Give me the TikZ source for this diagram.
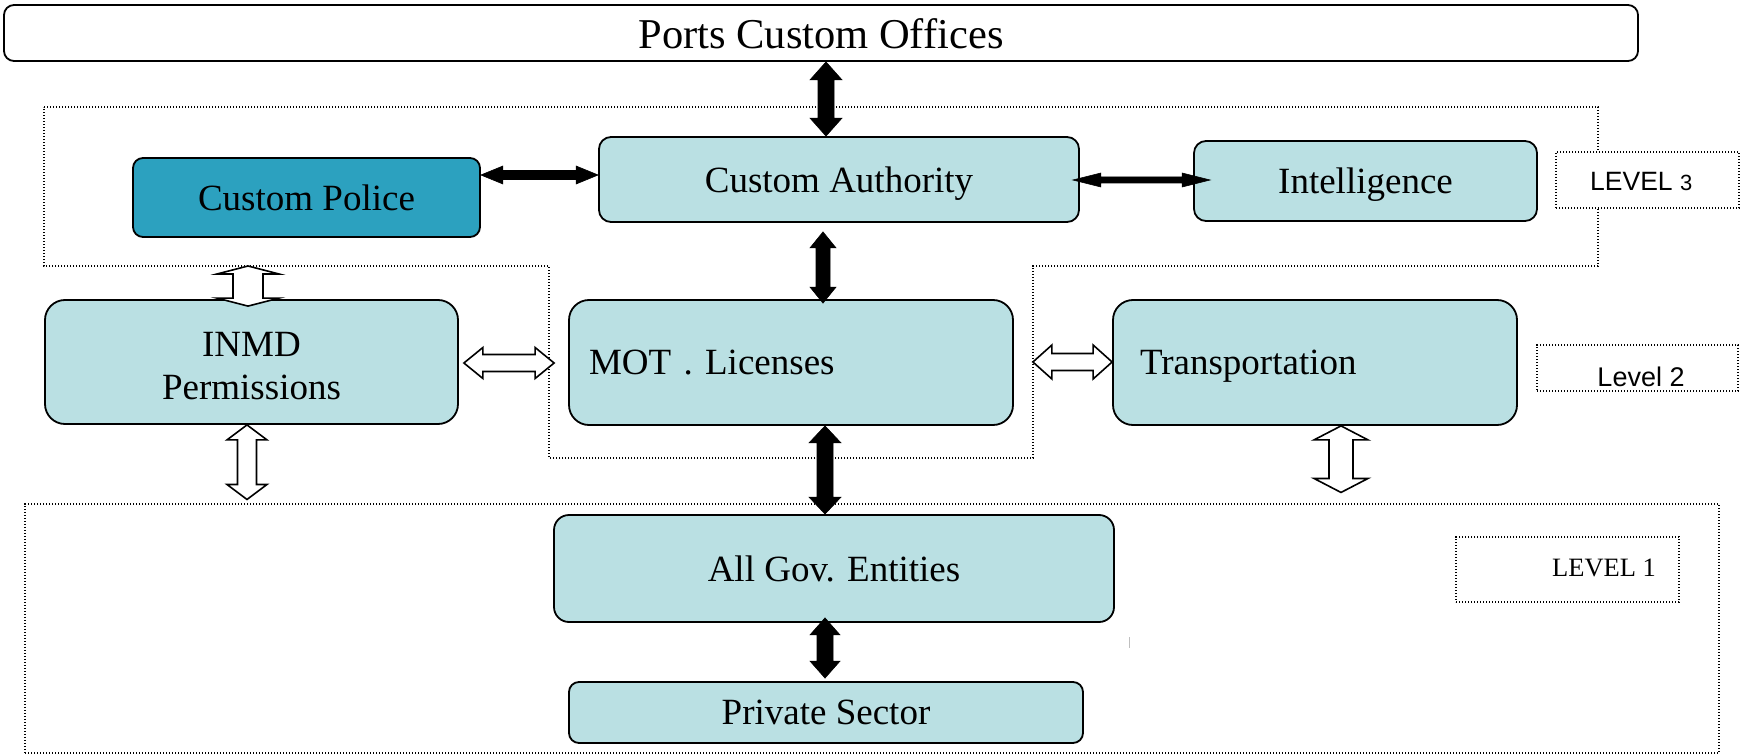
\documentclass[tikz,border=0pt]{standalone}
\usepackage{fontspec}
\setmainfont{Liberation Serif}
\newfontfamily\lsans{Liberation Sans}
\usetikzlibrary{calc}
\definecolor{boxfill}{RGB}{186,224,227}
\definecolor{cpfill}{RGB}{44,161,191}
\newcommand\mybody{\fontsize{37}{43.5}\selectfont}
% #1 style, #2 start tip, #3 end tip, #4 half head width, #5 half shaft width, #6 head length
\newcommand\blockarrow[6][hollowarr]{%
  \path[#1] (#2) -- ($(#2)!#6!(#3)!#4!90:(#3)$) -- ($(#2)!#6!(#3)!#5!90:(#3)$)
    -- ($(#3)!#6!(#2)!#5!-90:(#2)$) -- ($(#3)!#6!(#2)!#4!-90:(#2)$) -- (#3)
    -- ($(#3)!#6!(#2)!#4!90:(#2)$) -- ($(#3)!#6!(#2)!#5!90:(#2)$)
    -- ($(#2)!#6!(#3)!#5!-90:(#3)$) -- ($(#2)!#6!(#3)!#4!-90:(#3)$) -- cycle;}
\begin{document}
\begin{tikzpicture}[x=1pt,y=-1pt,
  box/.style={draw=black, line width=1.8pt, fill=boxfill, inner sep=0pt, align=center, font=\mybody, text depth=0pt},
  region/.style={draw=black, line width=1.1pt, dash pattern=on 1.4pt off 1.6pt},
  lvlbox/.style={region, line width=1.5pt, fill=white, inner sep=0pt},
  lvltext/.style={font=\lsans\fontsize{26.5}{30}\selectfont, inner sep=0pt},
  hollowarr/.style={draw=black, line width=1.6pt, fill=white, line join=miter},
  solidarr/.style={draw=black, line width=0.6pt, fill=black, line join=miter}]
\useasboundingbox (0,0) rectangle (1747,754);

% dotted regions
\draw[region] (44,107) -- (1598,107) -- (1598,266) -- (1033,266) -- (1033,458)
  -- (549,458) -- (549,266) -- (44,266) -- cycle;
\node[region, minimum width=1694pt, minimum height=249pt, inner sep=0pt] (l1) at (872,628.5) {};

% boxes
\node[box, fill=white, rounded corners=10pt, minimum width=1634pt, minimum height=56pt,
  font=\fontsize{42.5}{48}\selectfont] (ports) at (821,33) {\raisebox{-2pt}{Ports Custom Offices}};
\node[box, fill=cpfill, rounded corners=10pt, minimum width=347pt, minimum height=79pt] (cp) at (306.5,197.5) {Custom Police};
\node[box, rounded corners=12pt, minimum width=480pt, minimum height=85pt] (ca) at (839,179.5) {Custom Authority};
\node[box, rounded corners=12pt, minimum width=343pt, minimum height=80pt] (intel) at (1365.5,181) {Intelligence};
\node[box, rounded corners=20pt, minimum width=413pt, minimum height=124pt, align=none]
  (inmd) at (251.5,362) {\raisebox{22.5pt}{\begin{tabular}{@{}c@{}}INMD\\Permissions\end{tabular}}};
\node[box, rounded corners=20pt, minimum width=444pt, minimum height=125pt, text width=404pt,
  align=left, inner xsep=20pt] (mot) at (791,362.5) {MOT . Licenses};
\node[box, rounded corners=20pt, minimum width=404pt, minimum height=125pt, text width=350pt,
  align=left, inner xsep=27pt] (trans) at (1315,362.5) {Transportation};
\node[box, rounded corners=15pt, minimum width=560pt, minimum height=107pt] (allgov) at (834,568.5) {All Gov. Entities};
\node[box, rounded corners=10pt, minimum width=514pt, minimum height=61pt] (priv) at (826,712.5) {Private Sector};

% level labels
\node[lvlbox, minimum width=183pt, minimum height=56pt] (lvl3) at (1647.5,180) {};
\node[lvltext, anchor=west] (lvl3t) at (1590,181) {LEVEL {\fontsize{22}{26}\selectfont 3}};
\node[lvlbox, minimum width=201pt, minimum height=46pt] (lvl2) at (1637.5,368) {};
\node[lvltext, font=\lsans\fontsize{27}{30}\selectfont] (lvl2t) at (1641,377) {Level 2};
\node[lvlbox, minimum width=223pt, minimum height=65pt] (lvl1) at (1567.5,569.5) {};
\node[lvltext, font=\fontsize{26.5}{30}\selectfont, anchor=west] (lvl1t) at (1552,568) {LEVEL 1};

% connector end points
\coordinate (v1) at (826,0);
\coordinate (a1s) at (ports.south -| v1);
\coordinate (a1e) at (ca.north -| v1);
\coordinate (h2) at (0,175);
\coordinate (a2s) at (cp.east |- h2);
\coordinate (a2e) at (ca.west |- h2);
\coordinate (h3) at (0,180);
\coordinate (a3s) at ($(ca.east |- h3)+(-7,0)$);
\coordinate (a3e) at ($(intel.west |- h3)+(17,0)$);
\coordinate (v4) at (823,0);
\coordinate (a4s) at ($(ca.south -| v4)+(0,9)$);
\coordinate (a4e) at ($(mot.north -| v4)+(0,4)$);
\coordinate (v5) at (825,0);
\coordinate (a5s) at (mot.south -| v5);
\coordinate (a5e) at (allgov.north -| v5);
\coordinate (a6s) at ($(allgov.south -| v5)+(0,-5)$);
\coordinate (a6e) at ($(priv.north -| v5)+(0,-3)$);

\coordinate (b1s) at (248,266);
\coordinate (b1e) at ($(inmd.north -| b1s)+(0,7)$);
\coordinate (h8) at (0,363);
\coordinate (b2s) at ($(inmd.east |- h8)+(5,0)$);
\coordinate (b2e) at ($(mot.west |- h8)+(-14,0)$);
\coordinate (v9) at (247,0);
\coordinate (b3s) at (inmd.south -| v9);
\coordinate (b3e) at ($(l1.north -| v9)+(0,-4)$);
\coordinate (h10) at (0,362);
\coordinate (b4s) at ($(mot.east |- h10)+(19,0)$);
\coordinate (b4e) at (trans.west |- h10);
\coordinate (v11) at (1341,0);
\coordinate (b5s) at (trans.south -| v11);
\coordinate (b5e) at ($(l1.north -| v11)+(0,-11)$);

% solid double arrows
\blockarrow[solidarr]{a1s}{a1e}{16pt}{8pt}{18pt}
\blockarrow[solidarr]{a2s}{a2e}{9pt}{4.5pt}{22pt}
\blockarrow[solidarr]{a3s}{a3e}{7pt}{3pt}{28pt}
\blockarrow[solidarr]{a4s}{a4e}{13pt}{7pt}{16pt}
\blockarrow[solidarr]{a5s}{a5e}{16pt}{8pt}{17pt}
\blockarrow[solidarr]{a6s}{a6e}{15pt}{8pt}{17pt}

% hollow double arrows
\blockarrow{b1s}{b1e}{31pt}{15pt}{8pt}
\blockarrow{b2s}{b2e}{15.5pt}{8.5pt}{19pt}
\blockarrow{b3s}{b3e}{20pt}{9.5pt}{15pt}
\blockarrow{b4s}{b4e}{17pt}{8.5pt}{19pt}
\blockarrow{b5s}{b5e}{27pt}{12pt}{14pt}

% stray tick mark
\draw[gray!50, line width=1pt] (1129,637) -- (1129,648);
\end{tikzpicture}
\end{document}
